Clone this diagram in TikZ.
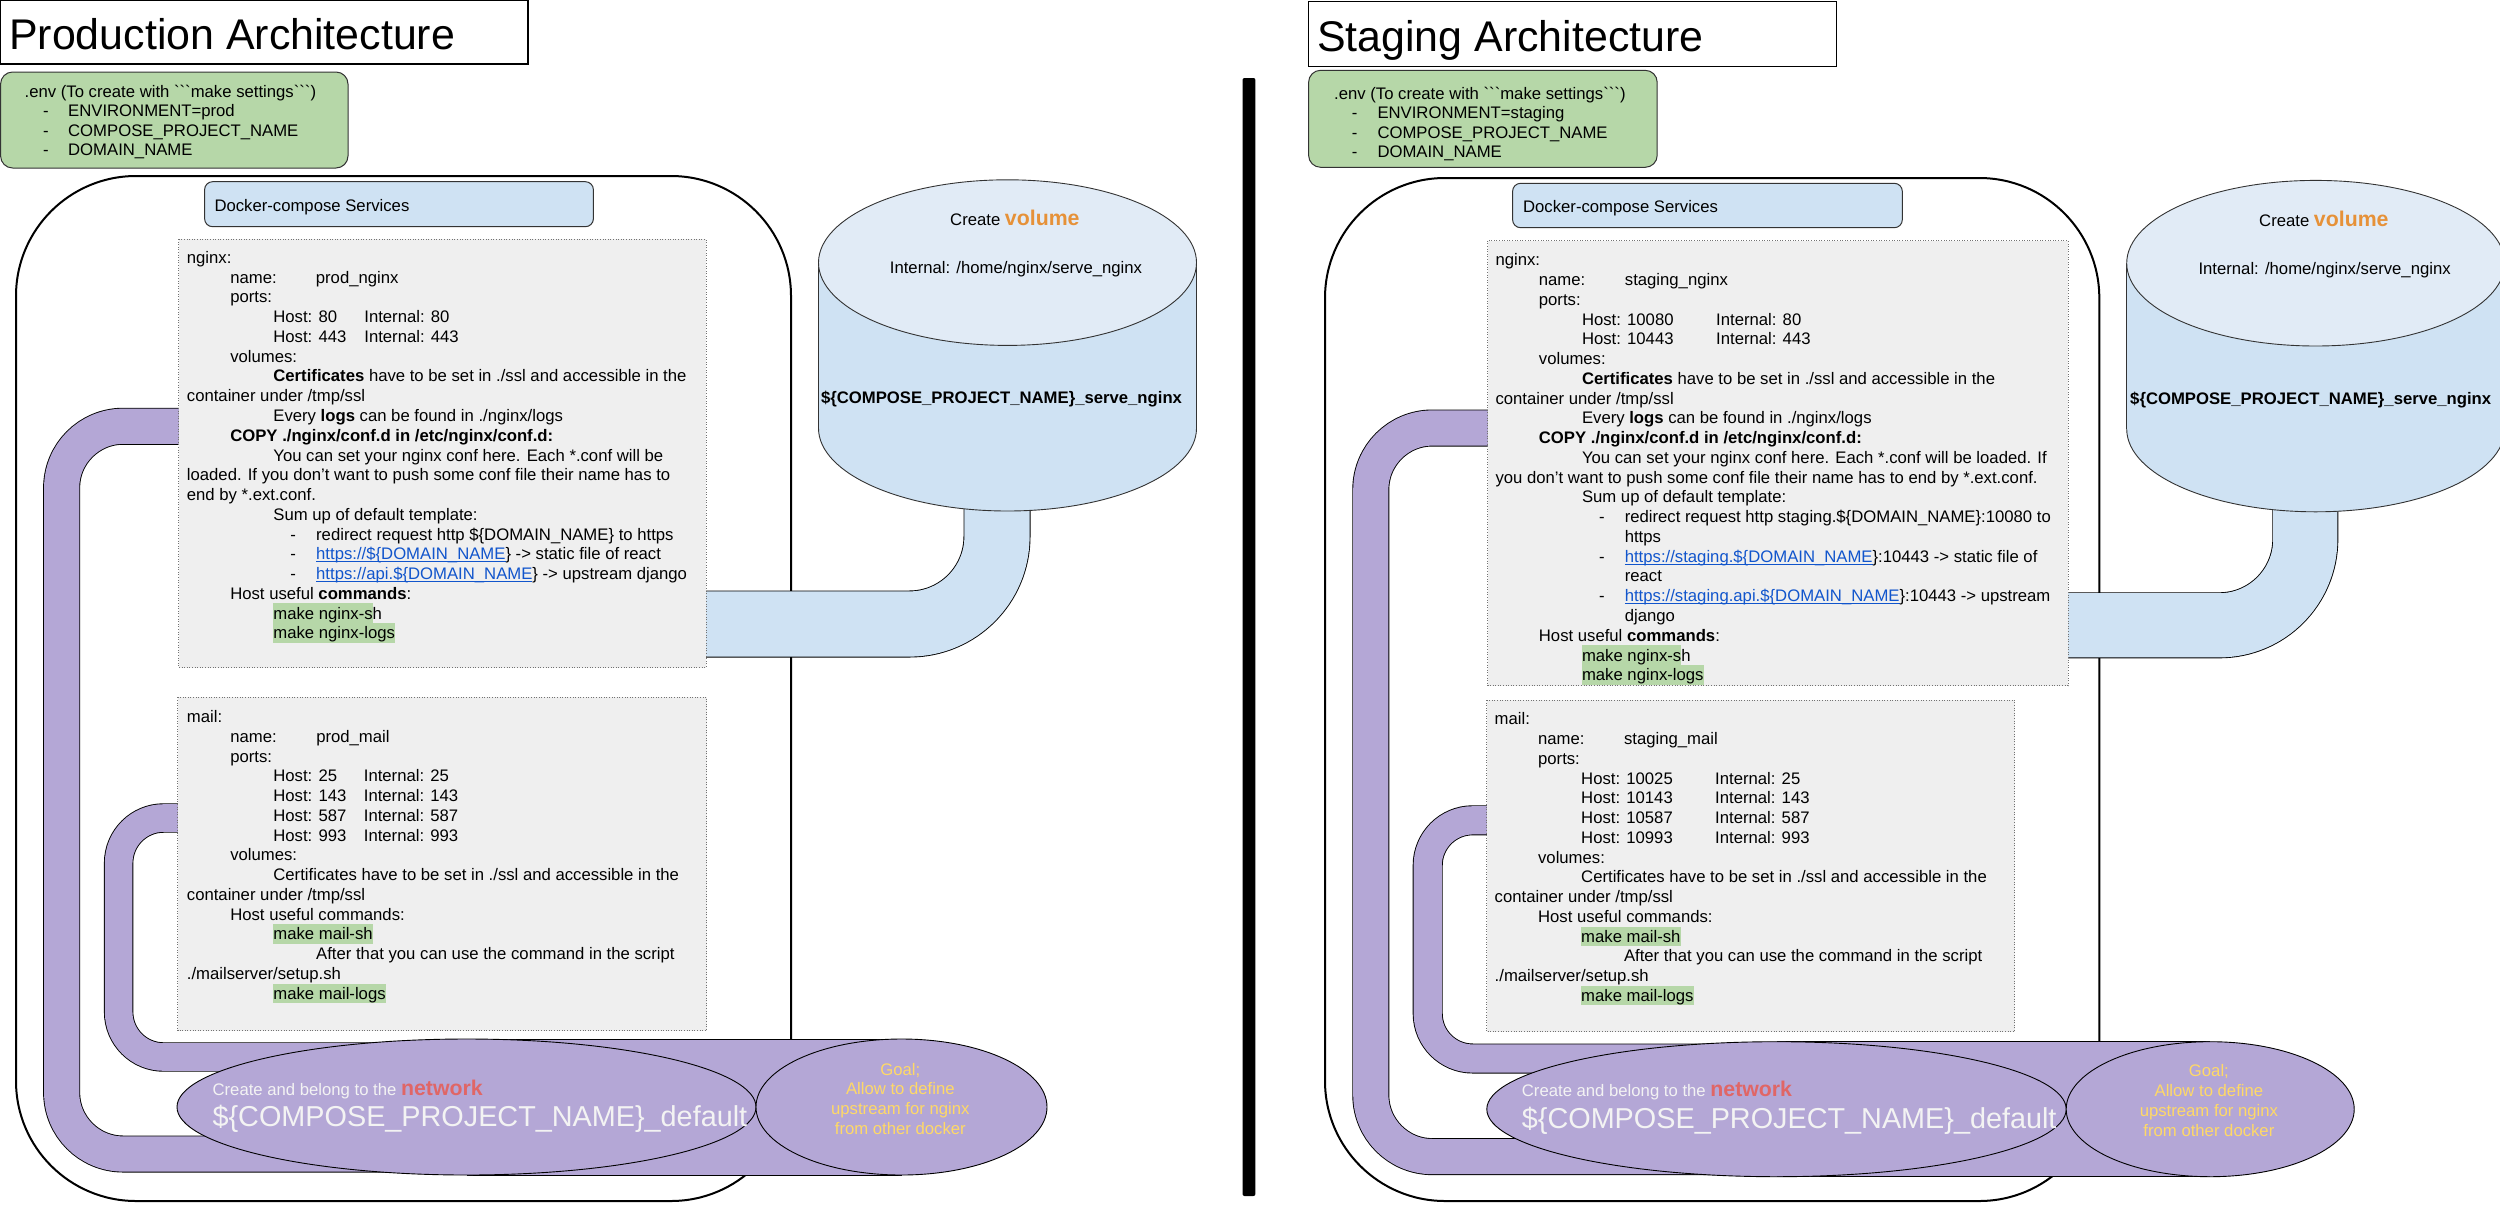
\documentclass[tikz,border=0pt]{standalone}
\usepackage{fontspec}
\newfontfamily\docfont{Liberation Sans}
\setlength{\fboxsep}{0pt}

\definecolor{envgreen}{HTML}{B6D7A8}
\definecolor{dockblue}{HTML}{CFE2F3}
\definecolor{svcgray}{HTML}{EFEFEF}
\definecolor{volblue}{HTML}{CFE2F3}
\definecolor{voltop}{HTML}{E1EBF6}
\definecolor{netpurple}{HTML}{B4A7D6}
\definecolor{hlgreen}{HTML}{B6D7A8}
\definecolor{linkblue}{HTML}{1155CC}
\definecolor{volorange}{HTML}{E69138}
\definecolor{netred}{HTML}{E06666}
\definecolor{goalyellow}{HTML}{FFD966}
\definecolor{nettext}{HTML}{F3F3F3}

% tab stops of the service texts
\newcommand\tabone{\hspace*{43.4pt}}
\newcommand\tabtwo{\hspace*{86.5pt}}
\newcommand\tabthree{\hspace*{129.3pt}}
\newcommand\dashitem{\hspace*{103.5pt}\makebox[25.8pt][l]{-}}
\newcommand\cell[2]{\makebox[#1][l]{#2}}
\newcommand\hl[1]{\colorbox{hlgreen}{\rule[-4pt]{0pt}{19.6pt}#1}}
\newsavebox\lnkbox
\newcommand\lnk[1]{\sbox\lnkbox{\color{linkblue}#1}\rlap{\color{linkblue}\rule[-2.2pt]{\wd\lnkbox}{0.9pt}}\usebox\lnkbox}

\tikzset{
  titlebox/.style={draw, line width=1.2pt},
  envbox/.style={draw=black!80, fill=envgreen, line width=1pt, rounded corners=12pt},
  dockbox/.style={draw=black!80, fill=dockblue, line width=1pt, rounded corners=8pt},
  svcbox/.style={draw=black!55, fill=svcgray, line width=0.9pt, dash pattern=on 1pt off 1.6pt},
  outerbox/.style={draw, line width=2pt, rounded corners=120pt},
  netband/.style={draw=black, line width=0.9pt, double=netpurple, double distance=#1},
  volpipe/.style={draw=black, line width=0.9pt, double=volblue, double distance=#1},
  volbody/.style={draw=black!80, fill=volblue, line width=0.9pt},
  voltopc/.style={draw=black!80, fill=voltop, line width=0.9pt},
  netoval/.style={draw=black, fill=netpurple, line width=0.9pt},
  txt/.style={anchor=base west, inner sep=0pt, font=\docfont\fontsize{16.7}{19.76}\selectfont},
  envtxt/.style={txt, font=\docfont\fontsize{16.7}{19.45}\selectfont},
  titletxt/.style={anchor=base west, inner sep=0pt, font=\docfont\fontsize{42.9}{50}\selectfont},
  bigtxt/.style={anchor=base west, inner sep=0pt, text=nettext, font=\docfont\fontsize{28.8}{34}\selectfont},
  goaltxt/.style={anchor=base, inner sep=0pt, text=goalyellow, font=\docfont\fontsize{16.7}{19.8}\selectfont},
}

\begin{document}
\begin{tikzpicture}[x=1pt, y=-1pt]
\useasboundingbox (0,0) rectangle (2500,1208);
\clip (0,0) rectangle (2500,1208);

%%%%%%%%%%%%%%%% production %%%%%%%%%%%%%%%%
\draw[titlebox] (0.6,0.6) rectangle (528,64);
\node[titletxt] (prodtitle) at (9,49) {Production Architecture};

\draw[envbox] (0.6,72) rectangle (348,168);
\node[envtxt] (prodenv) at (24.5,97.3) {\parbox[t]{320pt}{.env (To create with ```make settings```)\\
\hspace*{18.5pt}\makebox[25pt][l]{-}ENVIRONMENT=prod\\
\hspace*{18.5pt}\makebox[25pt][l]{-}COMPOSE\_PROJECT\_NAME\\
\hspace*{18.5pt}\makebox[25pt][l]{-}DOMAIN\_NAME}};

\draw[outerbox] (16,176) rectangle (791,1201);

% network links
\draw[netband=35.2pt, rounded corners=61.5pt] (400,426.25) -- (61.65,426.25) -- (61.65,1154) -- (466.5,1154);
\draw[netband=27.6pt, rounded corners=45pt] (400,818) -- (118.65,818) -- (118.65,1057) -- (466.5,1057);

% volume link
\draw[volpipe=65.2pt, rounded corners=87.5pt] (997,470) -- (997,624) -- (690,624);

% volume
\draw[volbody] (1007.5,428.2) ellipse [x radius=189, y radius=82.8];
\fill[volblue] (818.5,262.6) rectangle (1196.5,428.2);
\draw[black!80, line width=0.9pt] (818.5,262.6) -- (818.5,428.2) (1196.5,262.6) -- (1196.5,428.2);
\draw[voltopc] (1007.5,262.6) ellipse [x radius=189, y radius=82.8];
\node[txt] (prodvol) at (950,225) {Create {\bfseries\fontsize{21.3}{25}\selectfont\color{volorange}volume}};
\node[txt] (prodvolin) at (889.7,273) {Internal: /home/nginx/serve\_nginx};
\node[txt, font=\docfont\bfseries\fontsize{16.7}{20}\selectfont] (prodvolname) at (820.8,403) {\$\{COMPOSE\_PROJECT\_NAME\}\_serve\_nginx};

% services
\draw[dockbox] (204.6,181.7) rectangle (593.4,226.7);
\node[txt] (proddock) at (214.3,211) {Docker-compose Services};

\draw[svcbox] (178.7,239) rectangle (706,667.7);
\node[txt] (prodnginx) at (186.7,263.4) {\parbox[t]{520pt}{nginx:\\
\tabone\cell{85.6pt}{name:}prod\_nginx\\
\tabone ports:\\
\tabtwo\cell{91pt}{Host: 80}Internal: 80\\
\tabtwo\cell{91pt}{Host: 443}Internal: 443\\
\tabone volumes:\\
\tabtwo\textbf{Certificates} have to be set in ./ssl and accessible in the\\
container under /tmp/ssl\\
\tabtwo Every \textbf{logs} can be found in ./nginx/logs\\
\tabone\textbf{COPY ./nginx/conf.d in /etc/nginx/conf.d:}\\
\tabtwo You can set your nginx conf here. Each *.conf will be\\
loaded. If you don’t want to push some conf file their name has to\\
end by *.ext.conf.\\
\tabtwo Sum up of default template:\\
\dashitem redirect request http \$\{DOMAIN\_NAME\} to https\\
\dashitem\lnk{https://\$\{DOMAIN\_NAME}\} -> static file of react\\
\dashitem\lnk{https://api.\$\{DOMAIN\_NAME}\} -> upstream django\\
\tabone Host useful \textbf{commands}:\\
\tabtwo\hl{make nginx-s}h\\
\tabtwo\hl{make nginx-logs}}};

\draw[svcbox] (177.6,697.3) rectangle (706.5,1030.7);
\node[txt] (prodmail) at (186.7,722.6) {\parbox[t]{520pt}{mail:\\
\tabone\cell{86pt}{name:}prod\_mail\\
\tabone ports:\\
\tabtwo\cell{90.5pt}{Host: 25}Internal: 25\\
\tabtwo\cell{90.5pt}{Host: 143}Internal: 143\\
\tabtwo\cell{90.5pt}{Host: 587}Internal: 587\\
\tabtwo\cell{90.5pt}{Host: 993}Internal: 993\\
\tabone volumes:\\
\tabtwo Certificates have to be set in ./ssl and accessible in the\\
container under /tmp/ssl\\
\tabone Host useful commands:\\
\tabtwo\hl{make mail-sh}\\
\tabthree After that you can use the command in the script\\
./mailserver/setup.sh\\
\tabtwo\hl{make mail-logs}}};

% network
\fill[netpurple] (466.5,1039) rectangle (901.5,1175);
\draw[line width=0.9pt] (466.5,1039) -- (901.5,1039) (466.5,1175) -- (901.5,1175);
\draw[netoval] (466.5,1107) ellipse [x radius=289.5, y radius=68];
\draw[netoval] (901.5,1107) ellipse [x radius=145.5, y radius=68];
\node[txt, text=nettext] (prodnet) at (212.4,1095) {Create and belong to the {\bfseries\fontsize{21.3}{25}\selectfont\color{netred}network}};
\node[bigtxt] (prodnetname) at (212.4,1126.7) {\$\{COMPOSE\_PROJECT\_NAME\}\_default};
\node[goaltxt] (prodgoal) at (900.3,1075) {\parbox[t]{220pt}{\centering Goal;\\Allow to define\\upstream for nginx\\from other docker}};

%%%%%%%%%%%%%%%% separator %%%%%%%%%%%%%%%%
\fill[rounded corners=2pt] (1242.5,78) rectangle (1255.4,1196);

%%%%%%%%%%%%%%%% staging %%%%%%%%%%%%%%%%
\draw[titlebox] (1308.6,1.3) rectangle (1836.3,66.3);
\node[titletxt] (stagtitle) at (1317,51) {Staging Architecture};

\draw[envbox] (1308.6,70.3) rectangle (1657.2,167.3);
\node[envtxt] (stagenv) at (1334,99.2) {\parbox[t]{320pt}{.env (To create with ```make settings```)\\
\hspace*{17.6pt}\makebox[25.7pt][l]{-}ENVIRONMENT=staging\\
\hspace*{17.6pt}\makebox[25.7pt][l]{-}COMPOSE\_PROJECT\_NAME\\
\hspace*{17.6pt}\makebox[25.7pt][l]{-}DOMAIN\_NAME}};

\draw[outerbox] (1325,178) rectangle (2099.3,1201);

% network links
\draw[netband=35.2pt, rounded corners=61.5pt] (1700,428) -- (1370.8,428) -- (1370.8,1156.6) -- (1776.5,1156.6);
\draw[netband=28.2pt, rounded corners=45pt] (1700,820.3) -- (1427.7,820.3) -- (1427.7,1058.5) -- (1776.5,1058.5);

% volume link
\draw[volpipe=64.2pt, rounded corners=86pt] (2305.3,470) -- (2305.3,625.3) -- (2040,625.3);

% volume
\draw[volbody] (2315.7,429) ellipse [x radius=189, y radius=82.8];
\fill[volblue] (2126.7,263.2) rectangle (2504.7,429);
\draw[black!80, line width=0.9pt] (2126.7,263.2) -- (2126.7,429) (2504.7,263.2) -- (2504.7,429);
\draw[voltopc] (2315.7,263.2) ellipse [x radius=189, y radius=82.8];
\node[txt] (stagvol) at (2259,226) {Create {\bfseries\fontsize{21.3}{25}\selectfont\color{volorange}volume}};
\node[txt] (stagvolin) at (2198.3,274) {Internal: /home/nginx/serve\_nginx};
\node[txt, font=\docfont\bfseries\fontsize{16.7}{20}\selectfont] (stagvolname) at (2130,404) {\$\{COMPOSE\_PROJECT\_NAME\}\_serve\_nginx};

% services
\draw[dockbox] (1512.6,183.3) rectangle (1902.3,227.7);
\node[txt] (stagdock) at (1522.9,212.5) {Docker-compose Services};

\draw[svcbox] (1487.7,240.7) rectangle (2068,685.7);
\node[txt] (stagnginx) at (1495.3,265.8) {\parbox[t]{570pt}{nginx:\\
\tabone\cell{86pt}{name:}staging\_nginx\\
\tabone ports:\\
\tabtwo\cell{134.2pt}{Host: 10080}Internal: 80\\
\tabtwo\cell{134.2pt}{Host: 10443}Internal: 443\\
\tabone volumes:\\
\tabtwo\textbf{Certificates} have to be set in ./ssl and accessible in the\\
container under /tmp/ssl\\
\tabtwo Every \textbf{logs} can be found in ./nginx/logs\\
\tabone\textbf{COPY ./nginx/conf.d in /etc/nginx/conf.d:}\\
\tabtwo You can set your nginx conf here. Each *.conf will be loaded. If\\
you don’t want to push some conf file their name has to end by *.ext.conf.\\
\tabtwo Sum up of default template:\\
\dashitem redirect request http staging.\$\{DOMAIN\_NAME\}:10080 to\\
\tabthree https\\
\dashitem\lnk{https://staging.\$\{DOMAIN\_NAME}\}:10443 -> static file of\\
\tabthree react\\
\dashitem\lnk{https://staging.api.\$\{DOMAIN\_NAME}\}:10443 -> upstream\\
\tabthree django\\
\tabone Host useful \textbf{commands}:\\
\tabtwo\hl{make nginx-s}h\\
\tabtwo\hl{make nginx-logs}}};

\draw[svcbox] (1486.5,700) rectangle (2014.6,1031.7);
\node[txt] (stagmail) at (1494.5,724.8) {\parbox[t]{520pt}{mail:\\
\tabone\cell{86pt}{name:}staging\_mail\\
\tabone ports:\\
\tabtwo\cell{134pt}{Host: 10025}Internal: 25\\
\tabtwo\cell{134pt}{Host: 10143}Internal: 143\\
\tabtwo\cell{134pt}{Host: 10587}Internal: 587\\
\tabtwo\cell{134pt}{Host: 10993}Internal: 993\\
\tabone volumes:\\
\tabtwo Certificates have to be set in ./ssl and accessible in the\\
container under /tmp/ssl\\
\tabone Host useful commands:\\
\tabtwo\hl{make mail-sh}\\
\tabthree After that you can use the command in the script\\
./mailserver/setup.sh\\
\tabtwo\hl{make mail-logs}}};

% network
\fill[netpurple] (1776.5,1041.7) rectangle (2210.2,1176.7);
\draw[line width=0.9pt] (1776.5,1041.7) -- (2210.2,1041.7) (1776.5,1176.7) -- (2210.2,1176.7);
\draw[netoval] (1776.5,1109.2) ellipse [x radius=289.7, y radius=67.5];
\draw[netoval] (2210.2,1109.2) ellipse [x radius=144, y radius=67.5];
\node[txt, text=nettext] (stagnet) at (1521.7,1096.7) {Create and belong to the {\bfseries\fontsize{21.3}{25}\selectfont\color{netred}network}};
\node[bigtxt] (stagnetname) at (1521.7,1128.3) {\$\{COMPOSE\_PROJECT\_NAME\}\_default};
\node[goaltxt] (staggoal) at (2208.9,1076.7) {\parbox[t]{220pt}{\centering Goal;\\Allow to define\\upstream for nginx\\from other docker}};
\end{tikzpicture}
\end{document}
